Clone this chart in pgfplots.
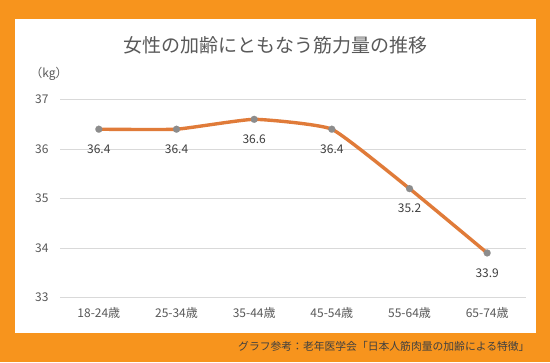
\documentclass[border=0pt]{standalone}
\usepackage{fontspec}
\setmainfont{Noto Sans CJK JP}
\usepackage{pgfplots}
\pgfplotsset{compat=1.18}
\definecolor{bgorange}{HTML}{F7941D}
\definecolor{lineor}{HTML}{E07B39}
\definecolor{mk}{HTML}{8C8C8C}
\definecolor{grid}{HTML}{D9D9D9}
\definecolor{txt}{HTML}{595959}
\definecolor{lbl}{HTML}{404040}
\pgfplotstableread{
x y
0 36.4
1 36.4
2 36.6
3 36.4
4 35.2
5 33.9
}\datatab
\begin{document}
\begin{tikzpicture}[x=1bp,y=1bp]
\fill[bgorange] (0,0) rectangle (550,362);
\fill[white] (15,29) rectangle (536,343);
\node[text=txt,font=\fontsize{19bp}{22bp}\selectfont] at (275,317) {女性の加齢にともなう筋力量の推移};
\node[text=txt,font=\fontsize{12bp}{14bp}\selectfont] at (49,288) {（kg）};
\node[text=lbl,anchor=east,font=\fontsize{10.8bp}{12bp}\selectfont] at (533,16) {グラフ参考：老年医学会「日本人筋肉量の加齢による特徴」};
\begin{axis}[
  at={(60bp,64.5bp)}, anchor=south west, scale only axis,
  width=466bp, height=198bp,
  xmin=-0.5, xmax=5.5, ymin=33, ymax=37,
  ytick={33,34,35,36,37},
  xtick={0,1,2,3,4,5},
  xticklabels={18-24歳,25-34歳,35-44歳,45-54歳,55-64歳,65-74歳},
  axis line style={draw=none},
  major tick style={draw=none},
  ymajorgrids, grid style={draw=grid, line width=0.8pt},
  /pgf/number format/assume math mode=true,
  ticklabel style={text=txt, font=\fontsize{12bp}{14bp}\selectfont},
  yticklabel style={xshift=-8bp},
  xticklabel style={yshift=-6bp},
  clip=false,
]
\addplot[lineor, line width=3.4bp, smooth, tension=0.25, no markers] table[x=x,y=y] {\datatab};
\addplot[only marks, mark=*, mark size=3.5bp, mark options={fill=mk, draw=mk, line width=0.1bp},
  nodes near coords={\pgfmathprintnumber[fixed,fixed zerofill,precision=1]{\pgfplotspointmeta}},
  every node near coord/.append style={anchor=center, yshift=-20bp, text=lbl, font=\fontsize{12bp}{14bp}\selectfont},
] table[x=x,y=y] {\datatab};
\end{axis}
\end{tikzpicture}
\end{document}
